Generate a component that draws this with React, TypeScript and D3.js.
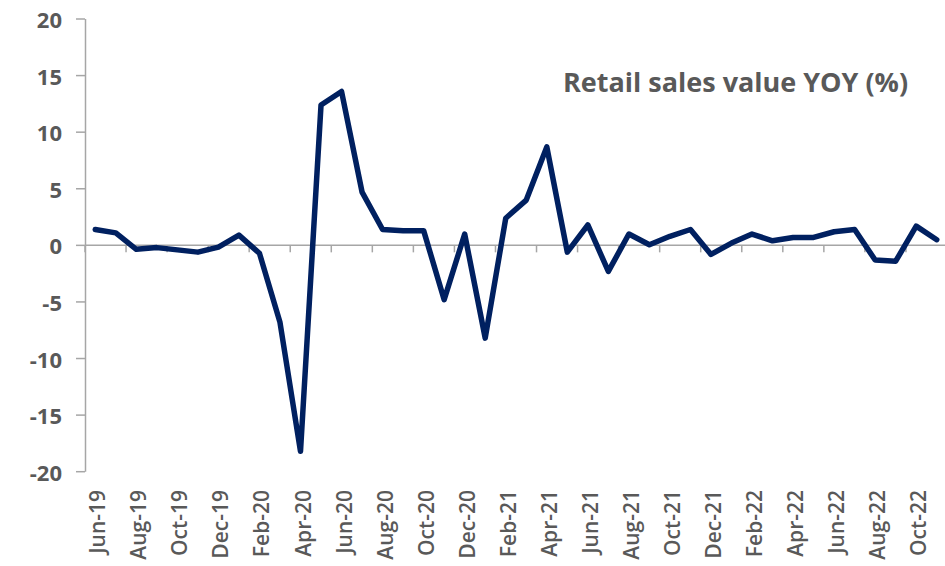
import * as d3 from 'd3'

const MONTHS = [
  'Jun-19', 'Jul-19', 'Aug-19', 'Sep-19', 'Oct-19', 'Nov-19', 'Dec-19',
  'Jan-20', 'Feb-20', 'Mar-20', 'Apr-20', 'May-20', 'Jun-20', 'Jul-20', 'Aug-20', 'Sep-20', 'Oct-20', 'Nov-20', 'Dec-20',
  'Jan-21', 'Feb-21', 'Mar-21', 'Apr-21', 'May-21', 'Jun-21', 'Jul-21', 'Aug-21', 'Sep-21', 'Oct-21', 'Nov-21', 'Dec-21',
  'Jan-22', 'Feb-22', 'Mar-22', 'Apr-22', 'May-22', 'Jun-22', 'Jul-22', 'Aug-22', 'Sep-22', 'Oct-22', 'Nov-22',
]

// Retail sales value, YOY %
const RETAIL_YOY = [
  1.4, 1.1, -0.35, -0.2, -0.4, -0.6, -0.15,
  0.9, -0.7, -6.8, -18.2, 12.4, 13.6, 4.7, 1.4, 1.3, 1.3, -4.8, 1.0,
  -8.2, 2.4, 4.0, 8.7, -0.6, 1.8, -2.3, 1.0, 0.05, 0.8, 1.4, -0.8,
  0.2, 1.0, 0.4, 0.7, 0.7, 1.2, 1.4, -1.3, -1.4, 1.7, 0.5,
]

const Y_TICKS = [-20, -15, -10, -5, 0, 5, 10, 15, 20]
const TITLE = 'Retail sales value YOY (%)'

const WIDTH = 945
const HEIGHT = 566
const PLOT = { left: 85, right: 947, top: 19, bottom: 471.7 }

const LINE_COLOR = '#002060'
const AXIS_COLOR = '#a6a6a6'
const TEXT_COLOR = '#595959'
const FONT = '"Open Sans", "DejaVu Sans", sans-serif'

export default function App() {
  const x = d3.scaleBand<string>().domain(MONTHS).range([PLOT.left, PLOT.right]).padding(0)
  const y = d3.scaleLinear().domain([-20, 20]).range([PLOT.bottom, PLOT.top])

  const cx = (m: string) => (x(m) ?? 0) + x.bandwidth() / 2
  const points = MONTHS.map((m, i) => ({ m, v: RETAIL_YOY[i] }))

  const line = d3.line<{ m: string; v: number }>()
    .x(d => cx(d.m))
    .y(d => y(d.v))

  // tick marks every two categories, on the band boundaries
  const boundaries = d3.range(0, MONTHS.length + 1, 2).map(i => PLOT.left + i * x.bandwidth())
  const labelled = MONTHS.filter((_, i) => i % 2 === 0)
  const y0 = y(0)

  return (
    <svg
      width={WIDTH}
      height={HEIGHT}
      style={{ position: 'absolute', left: 0, top: 0, background: '#fff', fontFamily: FONT }}
    >
      {/* y axis */}
      <line x1={PLOT.left + 0.5} x2={PLOT.left + 0.5} y1={y(20)} y2={y(-20)} stroke={AXIS_COLOR} strokeWidth={1.5} />
      {Y_TICKS.map(t => (
        <g key={`yt-${t}`}>
          <line x1={PLOT.left - 9} x2={PLOT.left} y1={y(t)} y2={y(t)} stroke={AXIS_COLOR} strokeWidth={1.5} />
          <text
            x={62}
            y={y(t)}
            textAnchor="end"
            dominantBaseline="central"
            fontSize={22}
            fontWeight={700}
            fill={TEXT_COLOR}
          >
            {t}
          </text>
        </g>
      ))}

      {/* x axis at zero */}
      <line x1={PLOT.left} x2={WIDTH} y1={y0} y2={y0} stroke={AXIS_COLOR} strokeWidth={1.5} />
      {boundaries.map((bx, i) => (
        <line key={`xt-${i}`} x1={bx} x2={bx} y1={y0} y2={y0 + 7} stroke={AXIS_COLOR} strokeWidth={1.5} />
      ))}

      {/* month labels */}
      {labelled.map(m => (
        <text
          key={`xl-${m}`}
          transform={`translate(${cx(m) + 2},490) rotate(-90)`}
          textAnchor="end"
          dominantBaseline="central"
          fontSize={21}
          fontWeight={600}
          fill={TEXT_COLOR}
        >
          {m}
        </text>
      ))}

      {/* series */}
      <path
        d={line(points) || ''}
        fill="none"
        stroke={LINE_COLOR}
        strokeWidth={5.5}
        strokeLinejoin="round"
        strokeLinecap="round"
      />

      <text x={563} y={92} fontSize={27} fontWeight={700} fill={TEXT_COLOR}>
        {TITLE}
      </text>
    </svg>
  )
}
